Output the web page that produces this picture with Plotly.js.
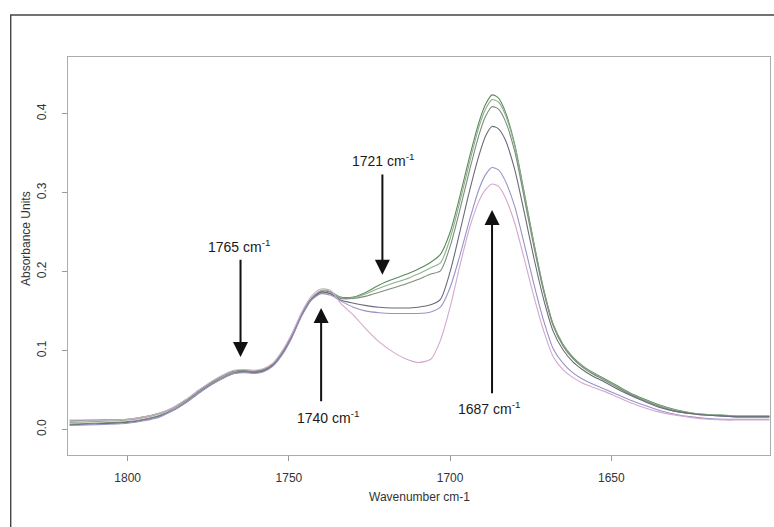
<!DOCTYPE html>
<html>
<head>
<meta charset="utf-8">
<script src="https://cdn.plot.ly/plotly-3.0.1.min.js"></script>
<style>
  html, body { margin: 0; padding: 0; background: #ffffff; }
  #chart { width: 774px; height: 527px; }
</style>
</head>
<body>
<div id="chart"></div>
<script>
// Wavenumber grid (cm-1), shared by all spectra
const wavenumber = [1818, 1810, 1800, 1795, 1790, 1786, 1782, 1778, 1774, 1770,
  1767, 1764, 1761, 1758, 1755, 1752, 1749, 1746, 1743, 1740,
  1737, 1734, 1730, 1726, 1722, 1718, 1714, 1710, 1706, 1703,
  1700, 1697, 1694, 1691, 1689, 1687, 1685, 1683, 1680, 1677,
  1674, 1671, 1668, 1665, 1662, 1659, 1656, 1652, 1648, 1644,
  1640, 1635, 1630, 1625, 1620, 1615, 1610, 1605, 1601];

// Absorbance of each spectrum on the grid above
const specA = [0.011, 0.012, 0.013, 0.016, 0.021, 0.027, 0.037, 0.049, 0.060, 0.069,
  0.074, 0.075, 0.074, 0.076, 0.083, 0.099, 0.121, 0.147, 0.166, 0.175,
  0.174, 0.168, 0.168, 0.174, 0.183, 0.190, 0.196, 0.203, 0.212, 0.222,
  0.250, 0.295, 0.345, 0.390, 0.412, 0.424, 0.420, 0.404, 0.362, 0.300,
  0.236, 0.178, 0.133, 0.108, 0.092, 0.081, 0.073, 0.064, 0.055, 0.046,
  0.039, 0.031, 0.025, 0.021, 0.019, 0.018, 0.017, 0.017, 0.017];
const specB = [0.009, 0.010, 0.012, 0.015, 0.020, 0.027, 0.036, 0.048, 0.059, 0.068,
  0.073, 0.074, 0.073, 0.075, 0.082, 0.097, 0.119, 0.146, 0.166, 0.176,
  0.175, 0.167, 0.167, 0.172, 0.179, 0.185, 0.190, 0.197, 0.205, 0.211,
  0.242, 0.288, 0.338, 0.384, 0.406, 0.418, 0.415, 0.400, 0.360, 0.298,
  0.235, 0.177, 0.132, 0.107, 0.091, 0.080, 0.072, 0.063, 0.054, 0.045,
  0.038, 0.030, 0.024, 0.021, 0.019, 0.018, 0.017, 0.017, 0.017];
const specC = [0.007, 0.008, 0.010, 0.013, 0.018, 0.025, 0.035, 0.047, 0.058, 0.067,
  0.072, 0.074, 0.073, 0.075, 0.082, 0.097, 0.119, 0.145, 0.165, 0.173,
  0.172, 0.166, 0.166, 0.169, 0.174, 0.179, 0.184, 0.190, 0.197, 0.201,
  0.232, 0.278, 0.328, 0.374, 0.397, 0.409, 0.406, 0.392, 0.353, 0.293,
  0.231, 0.175, 0.131, 0.106, 0.090, 0.079, 0.071, 0.062, 0.053, 0.044,
  0.037, 0.029, 0.023, 0.020, 0.018, 0.017, 0.016, 0.016, 0.016];
const specD = [0.006, 0.007, 0.009, 0.012, 0.017, 0.024, 0.034, 0.046, 0.057, 0.066,
  0.071, 0.073, 0.072, 0.074, 0.081, 0.096, 0.118, 0.145, 0.165, 0.174,
  0.172, 0.164, 0.160, 0.157, 0.155, 0.154, 0.154, 0.155, 0.158, 0.165,
  0.200, 0.250, 0.302, 0.348, 0.372, 0.384, 0.381, 0.368, 0.330, 0.275,
  0.217, 0.165, 0.124, 0.101, 0.086, 0.076, 0.068, 0.060, 0.051, 0.043,
  0.036, 0.028, 0.023, 0.020, 0.018, 0.017, 0.016, 0.016, 0.016];
const specE = [0.005, 0.006, 0.008, 0.011, 0.016, 0.024, 0.034, 0.046, 0.057, 0.066,
  0.071, 0.072, 0.071, 0.073, 0.080, 0.095, 0.117, 0.144, 0.164, 0.172,
  0.170, 0.163, 0.155, 0.150, 0.148, 0.147, 0.147, 0.147, 0.149, 0.155,
  0.180, 0.220, 0.265, 0.305, 0.323, 0.332, 0.329, 0.316, 0.283, 0.235,
  0.184, 0.138, 0.102, 0.084, 0.072, 0.064, 0.058, 0.051, 0.044, 0.037,
  0.031, 0.024, 0.019, 0.016, 0.014, 0.013, 0.013, 0.013, 0.013];
const specF = [0.012, 0.012, 0.013, 0.016, 0.021, 0.028, 0.038, 0.050, 0.061, 0.070,
  0.075, 0.076, 0.075, 0.077, 0.084, 0.100, 0.122, 0.149, 0.169, 0.178,
  0.176, 0.160, 0.145, 0.127, 0.111, 0.099, 0.090, 0.085, 0.089, 0.113,
  0.155, 0.207, 0.255, 0.290, 0.304, 0.311, 0.308, 0.295, 0.262, 0.216,
  0.168, 0.125, 0.092, 0.076, 0.066, 0.059, 0.054, 0.048, 0.041, 0.034,
  0.028, 0.022, 0.018, 0.015, 0.013, 0.012, 0.012, 0.012, 0.012];

const spectra = [specA, specB, specC, specD, specE, specF];
const lineColors = ['#5a8a5e', '#90b08b', '#7c8e7c', '#6a6a7a', '#9893c6', '#d2a8ce'];

// Marked band positions (cm-1) with arrow tip / tail absorbance and label placement
const bandPositions = [1765, 1740, 1721, 1687];
const bandLabels = ['1765 cm<sup>-1</sup>', '1740 cm<sup>-1</sup>', '1721 cm<sup>-1</sup>', '1687 cm<sup>-1</sup>'];
const arrowTip = [0.092, 0.154, 0.196, 0.278];
const arrowTail = [0.217, 0.034, 0.325, 0.044];
const labelY = [0.232, 0.016, 0.342, 0.027];
const labelX = [1765.5, 1738, 1720.8, 1688];

const traces = spectra.map((ys, i) => ({
  type: 'scatter',
  mode: 'lines',
  x: wavenumber,
  y: ys,
  line: { color: lineColors[i], width: 1.1, shape: 'spline', smoothing: 0.7 },
  hoverinfo: 'skip',
  showlegend: false
}));

const annotations = [];
bandPositions.forEach((wn, i) => {
  annotations.push({
    x: wn, y: arrowTip[i], xref: 'x', yref: 'y',
    ax: wn, ay: arrowTail[i], axref: 'x', ayref: 'y',
    text: '', showarrow: true,
    arrowhead: 2, arrowsize: 1.5, arrowwidth: 2, arrowcolor: '#111111',
    standoff: 0, startstandoff: 0
  });
  annotations.push({
    x: labelX[i], y: labelY[i], xref: 'x', yref: 'y',
    text: bandLabels[i], showarrow: false,
    xanchor: 'center', yanchor: 'middle',
    font: { family: 'Liberation Sans, Arial, sans-serif', size: 14, color: '#1a1a1a' }
  });
});

// Axis titles
annotations.push({
  xref: 'paper', yref: 'paper', x: -0.0598, y: 0.5427,
  text: 'Absorbance Units', textangle: -90, showarrow: false,
  xanchor: 'center', yanchor: 'middle',
  font: { family: 'Liberation Sans, Arial, sans-serif', size: 12, color: '#333333' }
});
annotations.push({
  xref: 'paper', yref: 'paper', x: 0.5, y: -0.1048,
  text: 'Wavenumber cm-1', showarrow: false,
  xanchor: 'center', yanchor: 'middle',
  font: { family: 'Liberation Sans, Arial, sans-serif', size: 12, color: '#333333' }
});

const layout = {
  width: 774, height: 527,
  margin: { l: 68, r: 4, t: 57, b: 72 },
  paper_bgcolor: '#ffffff', plot_bgcolor: '#ffffff',
  font: { family: 'Liberation Sans, Arial, sans-serif', size: 12, color: '#333333' },
  xaxis: {
    range: [1818.5, 1600.8],
    tickvals: [1800, 1750, 1700, 1650],
    ticks: 'outside', ticklen: 5, tickcolor: '#9a9a9a', tickwidth: 1,
    ticklabelstandoff: 6,
    showline: true, linecolor: '#ababab', linewidth: 1.2, mirror: true,
    showgrid: false, zeroline: false,
    tickfont: { size: 12, color: '#333333' }
  },
  yaxis: {
    range: [-0.0323, 0.472],
    tickvals: [0, 0.1, 0.2, 0.3, 0.4],
    ticktext: ['0.0', '0.1', '0.2', '0.3', '0.4'],
    tickangle: -90,
    ticks: 'outside', ticklen: 5, tickcolor: '#9a9a9a', tickwidth: 1,
    ticklabelstandoff: 11,
    showline: true, linecolor: '#ababab', linewidth: 1.2, mirror: true,
    showgrid: false, zeroline: false,
    tickfont: { size: 12, color: '#333333' }
  },
  shapes: [{
    // outer frame around the figure
    type: 'rect', xref: 'paper', yref: 'paper',
    x0: -0.0816, x1: 1.05, y0: -0.25, y1: 1.1055,
    line: { color: '#444444', width: 1.4 }, layer: 'below'
  }],
  annotations: annotations
};

Plotly.newPlot('chart', traces, layout, { displayModeBar: false, staticPlot: true });
</script>
</body>
</html>
